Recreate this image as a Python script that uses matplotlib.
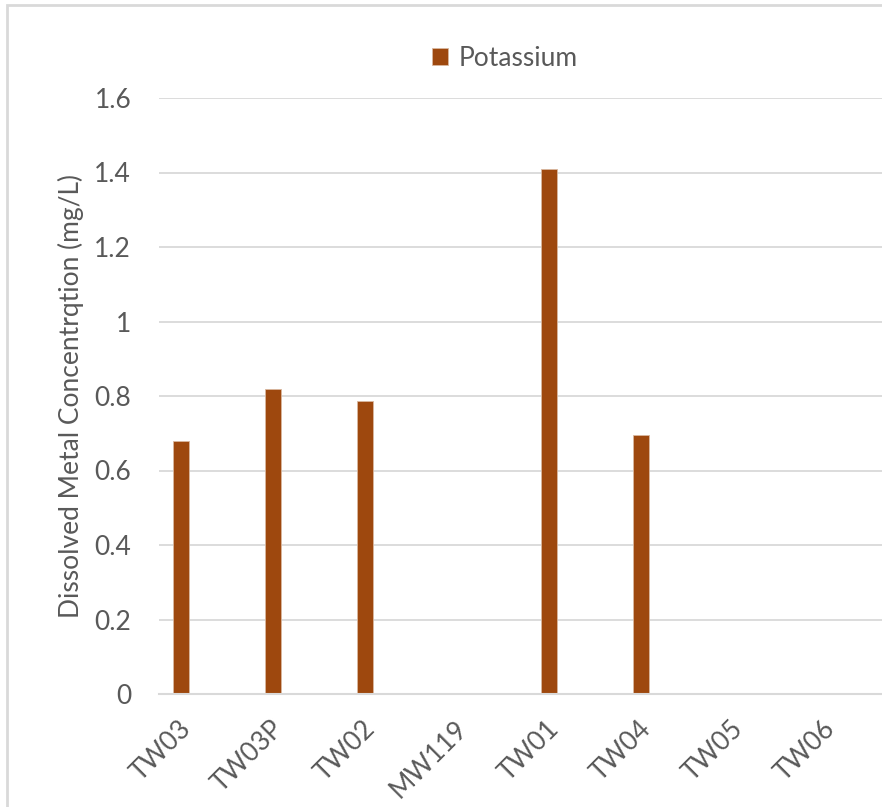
import matplotlib.pyplot as plt
from matplotlib.patches import Rectangle
import numpy as np

# Potassium results per well
wells = ['TW03', 'TW03P', 'TW02', 'MW119', 'TW01', 'TW04', 'TW05', 'TW06']
potassium = [0.68, 0.82, 0.787, 0, 1.41, 0.695, 0, 0]
y_ticks = [0, 0.2, 0.4, 0.6, 0.8, 1, 1.2, 1.4, 1.6]
y_tick_labels = ['0', '0.2', '0.4', '0.6', '0.8', '1', '1.2', '1.4', '1.6']

bar_color = '#9E480E'
text_color = '#595959'
grid_color = '#D9D9D9'

plt.rcParams['font.family'] = ['Lato', 'DejaVu Sans']

fig = plt.figure(figsize=(8.82, 8.07), dpi=100)
ax = fig.add_axes([159 / 882, 1 - 694 / 807, 723 / 882, 596 / 807])

x = np.arange(len(wells))
ax.bar(x, potassium, width=0.165, color=bar_color, edgecolor='#D9B8A0',
       linewidth=0.6, label='Potassium', zorder=3)

ax.set_xlim(-22 / 92, (882 - 181) / 92)
ax.set_ylim(0, 1.6)
ax.set_yticks(y_ticks)
ax.set_yticklabels(y_tick_labels)
ax.yaxis.grid(True, color=grid_color, linewidth=1.3)
ax.set_axisbelow(True)
for s in ['top', 'right', 'left']:
    ax.spines[s].set_visible(False)
ax.spines['bottom'].set_color(grid_color)
ax.spines['bottom'].set_linewidth(1.5)
ax.spines['bottom'].set_zorder(4)

ax.set_xticks(x + 0.07)
ax.set_xticklabels(wells, rotation=45, ha='right', va='center',
                   rotation_mode='anchor')
ax.tick_params(axis='x', length=0, pad=22, labelsize=19, labelcolor=text_color)
ax.tick_params(axis='y', length=0, pad=20, labelsize=19, labelcolor=text_color)

ax.set_ylabel('Dissolved Metal Concentrqtion (mg/L)', fontsize=19,
              color=text_color)
ax.yaxis.set_label_coords(-(159 - 84) / 723, (694 - 396) / 596)

fig.legend(loc='center', bbox_to_anchor=(505 / 882, 1 - 58 / 807),
           frameon=False, fontsize=19, labelcolor=text_color,
           handlelength=0.6, handleheight=0.6, handletextpad=0.4)

# light border of the chart area
fig.add_artist(Rectangle((7 / 882, -0.1), 1.2, 1.1 - 5 / 807, fill=False,
                         edgecolor=grid_color, linewidth=2,
                         transform=fig.transFigure))

fig.savefig('out.png', dpi=100)
